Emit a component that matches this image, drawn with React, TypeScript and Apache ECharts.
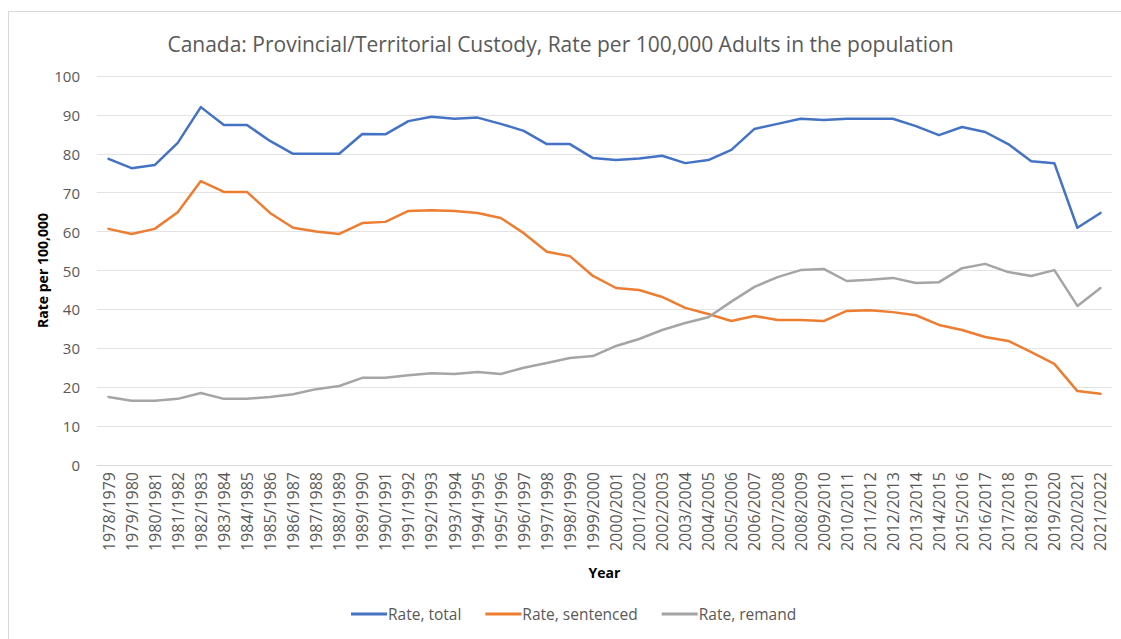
import React, { useEffect, useRef } from "react";
import * as echarts from "echarts";

const categories = [
  "1978/1979", "1979/1980", "1980/1981", "1981/1982", "1982/1983", "1983/1984", "1984/1985", "1985/1986",
  "1986/1987", "1987/1988", "1988/1989", "1989/1990", "1990/1991", "1991/1992", "1992/1993", "1993/1994",
  "1994/1995", "1995/1996", "1996/1997", "1997/1998", "1998/1999", "1999/2000", "2000/2001", "2001/2002",
  "2002/2003", "2003/2004", "2004/2005", "2005/2006", "2006/2007", "2007/2008", "2008/2009", "2009/2010",
  "2010/2011", "2011/2012", "2012/2013", "2013/2014", "2014/2015", "2015/2016", "2016/2017", "2017/2018",
  "2018/2019", "2019/2020", "2020/2021", "2021/2022",
];

const rateTotal = [
  78.7, 76.3, 77.1, 82.8, 92.0, 87.4, 87.4, 83.3, 80.0, 80.0, 80.0, 85.1, 85.0, 88.4, 89.5, 89.0,
  89.3, 87.7, 85.9, 82.5, 82.5, 78.9, 78.4, 78.8, 79.5, 77.6, 78.4, 81.0, 86.4, 87.7, 89.0, 88.7,
  89.0, 89.0, 89.0, 87.1, 84.8, 86.9, 85.6, 82.5, 78.1, 77.6, 61.0, 64.8,
];

const rateSentenced = [
  60.7, 59.4, 60.7, 65.0, 73.0, 70.2, 70.2, 64.8, 61.0, 60.0, 59.4, 62.2, 62.5, 65.3, 65.5, 65.3,
  64.8, 63.5, 59.6, 54.8, 53.7, 48.6, 45.5, 45.0, 43.2, 40.4, 38.8, 37.0, 38.3, 37.3, 37.3, 37.0,
  39.6, 39.8, 39.3, 38.5, 36.0, 34.7, 32.9, 31.9, 29.0, 26.0, 19.0, 18.3,
];

const rateRemand = [
  17.5, 16.5, 16.5, 17.0, 18.5, 17.0, 17.0, 17.5, 18.2, 19.5, 20.3, 22.4, 22.4, 23.1, 23.6, 23.4,
  23.9, 23.4, 25.0, 26.2, 27.5, 28.0, 30.6, 32.4, 34.7, 36.5, 38.0, 42.0, 45.8, 48.3, 50.1, 50.4,
  47.3, 47.6, 48.1, 46.8, 47.0, 50.6, 51.7, 49.6, 48.6, 50.1, 40.9, 45.5,
];

const seriesNames = ["Rate, total", "Rate, sentenced", "Rate, remand"];
const seriesColors = ["#4472C4", "#ED7D31", "#A5A5A5"];

const FONT = "'Open Sans', 'Noto Sans', sans-serif";

export default function App() {
  const ref = useRef<HTMLDivElement>(null);

  useEffect(() => {
    if (!ref.current) return;
    const chart = echarts.init(ref.current, null, { renderer: "svg" });
    const datas = [rateTotal, rateSentenced, rateRemand];
    chart.setOption({
      animation: false,
      backgroundColor: "#ffffff",
      title: {
        text: "Canada: Provincial/Territorial Custody, Rate per 100,000 Adults in the population",
        left: "center",
        top: 28,
        textStyle: {
          fontFamily: FONT,
          fontSize: 21,
          fontWeight: "normal",
          color: "#595959",
        },
      },
      graphic: [
        {
          type: "line",
          shape: { x1: 8, y1: 11.5, x2: 1121, y2: 11.5 },
          style: { stroke: "#d9d9d9", lineWidth: 1 },
        },
        {
          type: "line",
          shape: { x1: 8.5, y1: 11, x2: 8.5, y2: 639 },
          style: { stroke: "#d9d9d9", lineWidth: 1 },
        },
      ],
      legend: {
        bottom: 12,
        left: 346,
        itemGap: 24,
        itemWidth: 36,
        itemHeight: 3,
        icon: "rect",
        textStyle: { fontFamily: FONT, fontSize: 15.5, color: "#595959", padding: [0, 0, 0, -4] },
        data: seriesNames,
      },
      grid: { left: 97, right: 9, top: 76, bottom: 174 },
      xAxis: {
        type: "category",
        data: categories,
        boundaryGap: true,
        name: "Year",
        nameLocation: "middle",
        nameGap: 100,
        nameTextStyle: { fontFamily: FONT, fontSize: 14, fontWeight: "bold", color: "#000000" },
        axisLine: { show: true, lineStyle: { color: "#d9d9d9", width: 1 } },
        axisTick: { show: false },
        axisLabel: {
          rotate: 90,
          interval: 0,
          margin: 7,
          fontFamily: FONT,
          fontSize: 16,
          color: "#595959",
        },
      },
      yAxis: {
        type: "value",
        min: 0,
        max: 100,
        interval: 10,
        name: "Rate per 100,000",
        nameLocation: "middle",
        nameGap: 48,
        nameRotate: 90,
        nameMoveOverlap: false,
        nameTextStyle: { fontFamily: FONT, fontSize: 14, fontWeight: "bold", color: "#000000" },
        axisLine: { show: false },
        axisTick: { show: false },
        axisLabel: { margin: 17, fontFamily: FONT, fontSize: 15, color: "#595959" },
        splitLine: { lineStyle: { color: "#e3e3e3", width: 1 } },
      },
      series: seriesNames.map((name, i) => ({
        name,
        type: "line",
        data: datas[i],
        symbol: "none",
        smooth: false,
        color: seriesColors[i],
        lineStyle: { width: 2.5, color: seriesColors[i], cap: "round", join: "round" },
      })),
    });
    return () => chart.dispose();
  }, []);

  return (
    <div
      ref={ref}
      style={{ position: "absolute", left: 0, top: 0, width: 1121, height: 639 }}
    />
  );
}
